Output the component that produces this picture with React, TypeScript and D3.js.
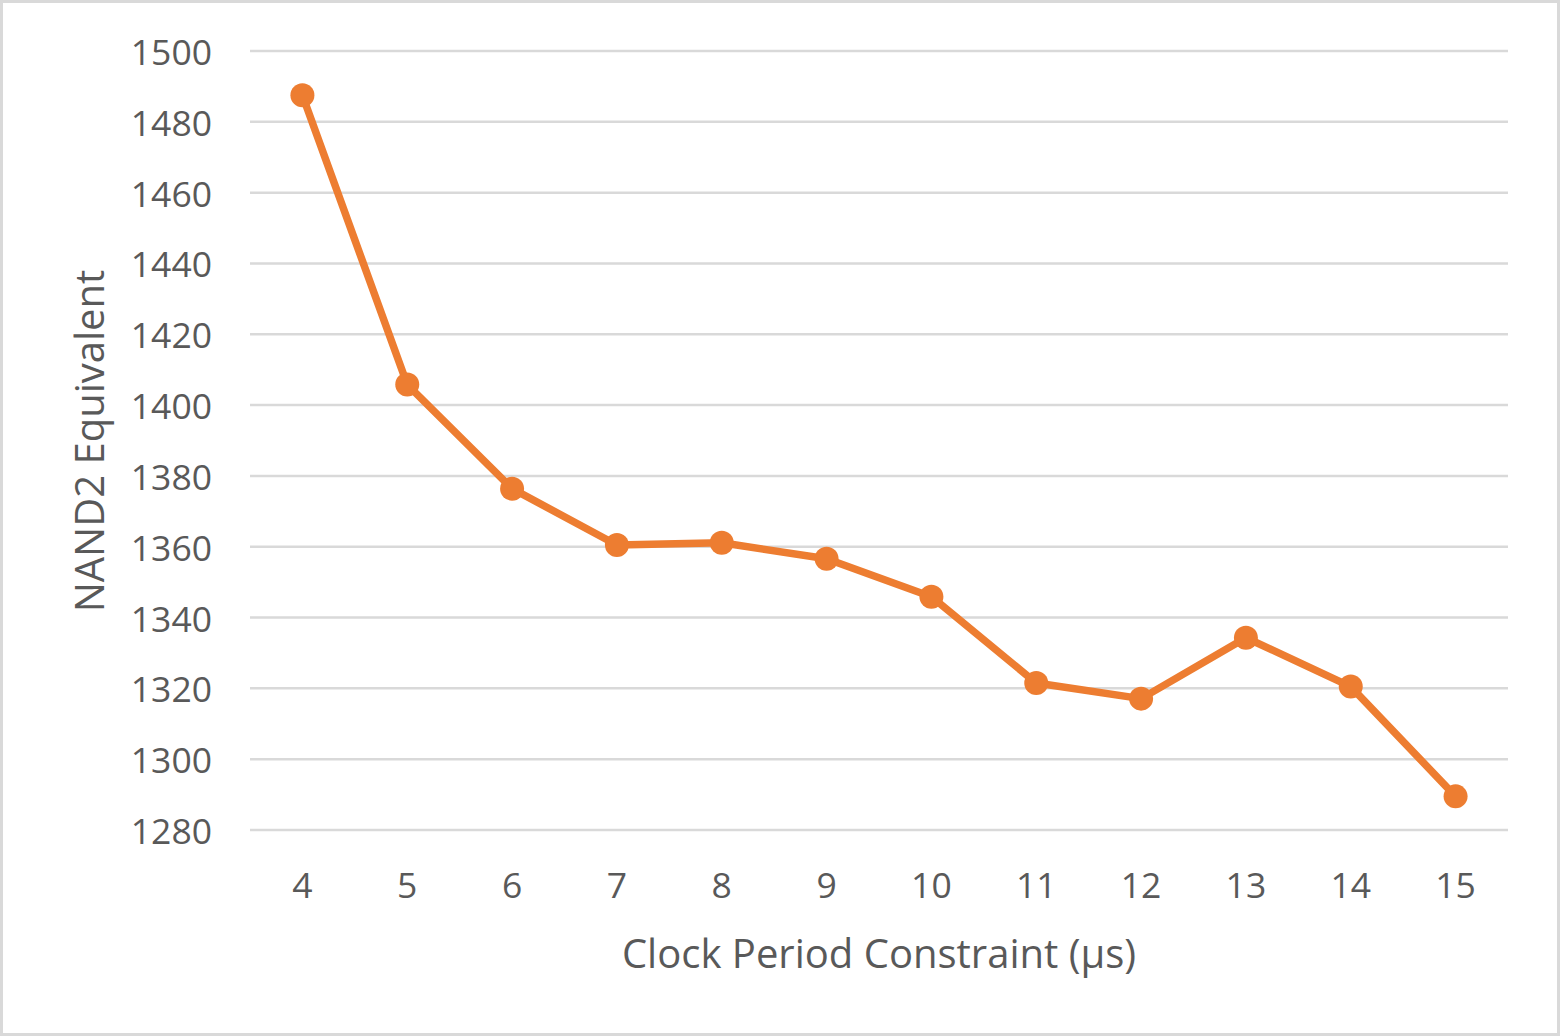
import React from "react";
import * as d3 from "d3";

const categories = ["4", "5", "6", "7", "8", "9", "10", "11", "12", "13", "14", "15"];
const values = [1487.5, 1405.8, 1376.4, 1360.5, 1361.1, 1356.6, 1345.9, 1321.5, 1317.1, 1334.3, 1320.5, 1289.5];
const yTicks = [1280, 1300, 1320, 1340, 1360, 1380, 1400, 1420, 1440, 1460, 1480, 1500];
const xTitle = "Clock Period Constraint (µs)";
const yTitle = "NAND2 Equivalent";

const W = 1560;
const H = 1036;
const plot = { left: 250, right: 1508, top: 51, bottom: 830 };
const font = "'Open Sans', Calibri, sans-serif";
const textColor = "#595959";
const orange = "#ED7D31";

export default function App() {
  const x = d3.scaleBand<string>().domain(categories).range([plot.left, plot.right]);
  const y = d3.scaleLinear().domain([1280, 1500]).range([plot.bottom, plot.top]);
  const cx = (c: string) => (x(c) as number) + x.bandwidth() / 2;
  const line = d3
    .line<number>()
    .x((_, i) => cx(categories[i]))
    .y((d) => y(d));

  return (
    <svg
      width={W}
      height={H}
      style={{ position: "absolute", left: 0, top: 0, background: "#fff" }}
    >
      <rect x={1.5} y={1.5} width={W - 3} height={H - 3} fill="#fff" stroke="#d9d9d9" strokeWidth={3} />
      {yTicks.map((t) => (
        <g key={t}>
          <line x1={plot.left} x2={plot.right} y1={y(t)} y2={y(t)} stroke="#d9d9d9" strokeWidth={2.5} />
          <text
            x={212}
            y={y(t)}
            textAnchor="end"
            dominantBaseline="central"
            fontFamily={font}
            fontSize={35.5}
            fill={textColor}
          >
            {t}
          </text>
        </g>
      ))}
      {categories.map((c) => (
        <text
          key={c}
          x={cx(c)}
          y={884}
          textAnchor="middle"
          dominantBaseline="central"
          fontFamily={font}
          fontSize={35.5}
          fill={textColor}
        >
          {c}
        </text>
      ))}
      <path d={line(values) || ""} fill="none" stroke={orange} strokeWidth={7.5} strokeLinejoin="round" />
      {values.map((v, i) => (
        <circle key={i} cx={cx(categories[i])} cy={y(v)} r={12} fill={orange} />
      ))}
      <text
        x={(plot.left + plot.right) / 2}
        y={952}
        textAnchor="middle"
        dominantBaseline="central"
        fontFamily={font}
        fontSize={40}
        fill={textColor}
      >
        {xTitle}
      </text>
      <text
        transform={`translate(88,${441}) rotate(-90)`}
        textAnchor="middle"
        dominantBaseline="central"
        fontFamily={font}
        fontSize={40}
        fill={textColor}
      >
        {yTitle}
      </text>
    </svg>
  );
}
